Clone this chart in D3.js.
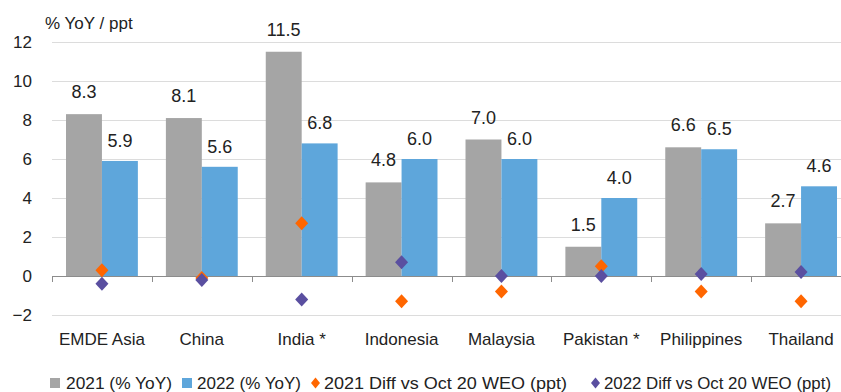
<!DOCTYPE html>
<html><head><meta charset="utf-8">
<script src="https://cdn.jsdelivr.net/npm/d3@7"></script>
<style>
body{margin:0;background:#fff;}
text{font-family:"Liberation Sans",Arial,sans-serif;fill:#222;}
</style></head><body>
<svg id="c" width="841" height="392"></svg>
<script>
const categories = ["EMDE Asia","China","India *","Indonesia","Malaysia","Pakistan *","Philippines","Thailand"];
const gdp2021 = [8.3,8.1,11.5,4.8,7.0,1.5,6.6,2.7];
const gdp2022 = [5.9,5.6,6.8,6.0,6.0,4.0,6.5,4.6];
const diff2021 = [0.3,-0.1,2.7,-1.3,-0.8,0.5,-0.8,-1.3];
const diff2022 = [-0.4,-0.2,-1.2,0.7,0.0,0.0,0.1,0.2];
const yTicks = [-2,0,2,4,6,8,10,12];
const legendLabels = ["2021 (% YoY)","2022 (% YoY)","2021 Diff vs Oct 20 WEO (ppt)","2022 Diff vs Oct 20 WEO (ppt)"];

const svg = d3.select("#c");
const x = d3.scaleBand().domain(categories).range([52,851]).padding(0);
const x1 = d3.scaleBand().domain(["a","b"]).range([0,x.bandwidth()]).paddingInner(0).paddingOuter(0.39);
const y = d3.scaleLinear().domain([-2,12]).range([315,42]);

// gridlines
svg.append("g").selectAll("line").data(yTicks.filter(d=>d!==0)).join("line")
  .attr("x1",52).attr("x2",841).attr("y1",d=>Math.round(y(d))+0.5).attr("y2",d=>Math.round(y(d))+0.5)
  .attr("stroke","#dcdcdc").attr("stroke-width",1);

// y tick labels
svg.append("g").selectAll("text").data(yTicks).join("text")
  .attr("x",32).attr("y",d=>y(d)).attr("dy","0.35em").attr("text-anchor","end")
  .style("font-size","17px").text(d=>d<0?"\u2212"+Math.abs(d):d);

svg.append("text").attr("x",45).attr("y",29).style("font-size","17px").text("% YoY / ppt");

// bars
const g = svg.append("g");
g.selectAll("rect.a").data(categories).join("rect").attr("class","a")
  .attr("x",d=>x(d)+x1("a")).attr("width",x1.bandwidth())
  .attr("y",(d,i)=>y(gdp2021[i])).attr("height",(d,i)=>y(0)-y(gdp2021[i]))
  .attr("fill","#a5a5a5");
g.selectAll("rect.b").data(categories).join("rect").attr("class","b")
  .attr("x",d=>x(d)+x1("b")).attr("width",x1.bandwidth())
  .attr("y",(d,i)=>y(gdp2022[i])).attr("height",(d,i)=>y(0)-y(gdp2022[i]))
  .attr("fill","#5ea6db");

// value labels
g.selectAll("text.la").data(categories).join("text").attr("class","la")
  .attr("x",d=>x(d)+x1("a")+x1.bandwidth()/2).attr("y",(d,i)=>y(gdp2021[i])-16)
  .attr("text-anchor","middle").style("font-size","18px").text((d,i)=>gdp2021[i].toFixed(1));
g.selectAll("text.lb").data(categories).join("text").attr("class","lb")
  .attr("x",d=>x(d)+x1("b")+x1.bandwidth()/2).attr("y",(d,i)=>y(gdp2022[i])-14)
  .attr("text-anchor","middle").style("font-size","18px").text((d,i)=>gdp2022[i].toFixed(1));

// zero axis
svg.append("line").attr("x1",52).attr("x2",841).attr("y1",Math.round(y(0))+0.5).attr("y2",Math.round(y(0))+0.5)
  .attr("stroke","#8c8c8c").attr("stroke-width",1);
svg.append("g").selectAll("line").data(categories).join("line")
  .attr("x1",d=>Math.round(x(d))+0.5).attr("x2",d=>Math.round(x(d))+0.5)
  .attr("y1",y(0)).attr("y2",y(0)+6).attr("stroke","#8c8c8c");

// diamonds
function diamond(){ return "M0,-7L6.5,0L0,7L-6.5,0Z"; }
svg.append("g").selectAll("path").data(categories).join("path")
  .attr("d",diamond).attr("fill","#ff6600")
  .attr("transform",(d,i)=>`translate(${x(d)+x.bandwidth()/2},${y(diff2021[i])})`);
svg.append("g").selectAll("path").data(categories).join("path")
  .attr("d",diamond).attr("fill","#5a4fa0")
  .attr("transform",(d,i)=>`translate(${x(d)+x.bandwidth()/2},${y(diff2022[i])})`);

// category labels
svg.append("g").selectAll("text").data(categories).join("text")
  .attr("x",d=>x(d)+x.bandwidth()/2).attr("y",345).attr("text-anchor","middle")
  .style("font-size","17px").text(d=>d);

// legend
const lg = svg.append("g").attr("transform","translate(0,383)");
const legendItems = [
  {t:legendLabels[0], c:"#a5a5a5", s:"sq", x:50, tx:66, w:106},
  {t:legendLabels[1], c:"#5ea6db", s:"sq", x:182, tx:197, w:104},
  {t:legendLabels[2], c:"#ff6600", s:"di", x:311, tx:324, w:243},
  {t:legendLabels[3], c:"#5a4fa0", s:"di", x:591, tx:604, w:227}
];
legendItems.forEach(it=>{
  if(it.s==="sq") lg.append("rect").attr("x",it.x).attr("y",-5).attr("width",10).attr("height",10).attr("fill",it.c);
  else lg.append("path").attr("d","M0,-5.5L4.5,0L0,5.5L-4.5,0Z").attr("fill",it.c).attr("transform",`translate(${it.x+4.5},0)`);
  lg.append("text").attr("x",it.tx).attr("y",0).attr("dy","0.35em").style("font-size","17px")
    .attr("textLength",it.w).attr("lengthAdjust","spacingAndGlyphs").text(it.t);
});
</script></body></html>
